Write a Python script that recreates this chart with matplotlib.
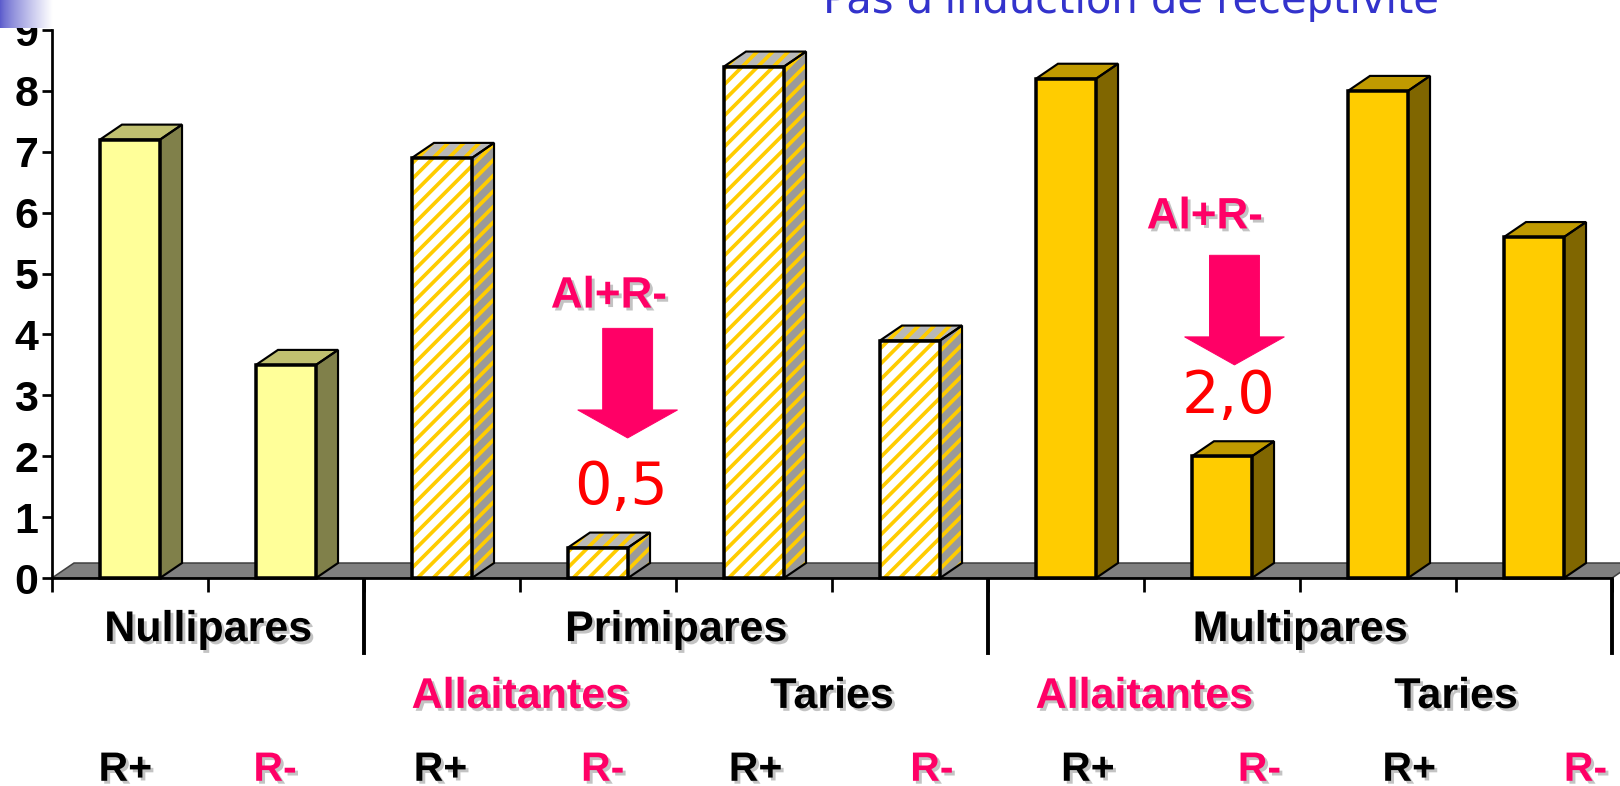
import numpy as np
import matplotlib
matplotlib.use("Agg")
import matplotlib.pyplot as plt
import matplotlib.patheffects as pe
from matplotlib.patches import Polygon, FancyArrow

plt.rcParams['font.family'] = ['Liberation Sans', 'DejaVu Sans']
plt.rcParams['hatch.linewidth'] = 1.9

DPI = 140
def pt(px):
    # taille en pixels -> points
    return px * 72 / DPI

# données
groupes = ['Nullipares', 'Primipares', 'Multipares']
groupes_x = [1, 4, 8]
sous_groupes = ['Allaitantes', 'Taries', 'Allaitantes', 'Taries']
sous_groupes_x = [3, 5, 7, 9]
recepteurs = ['R+', 'R-', 'R+', 'R-', 'R+', 'R-', 'R+', 'R-', 'R+', 'R-']
valeurs = [7.2, 3.5, 6.9, 0.5, 8.4, 3.9, 8.2, 2.0, 8.0, 5.6]
types = ['nulli', 'nulli', 'primi', 'primi', 'primi', 'primi',
         'multi', 'multi', 'multi', 'multi']

ROSE = '#FF0066'
couleurs = {
    'nulli': dict(front='#FFFF99', side='#80804A', top='#C0C070', hatch=None),
    'primi': dict(front='white', side='#9A9A9A', top='#B8B8B8', hatch='///'),
    'multi': dict(front='#FFCC00', side='#806600', top='#C09A00', hatch=None),
}

W = 0.385      # largeur de la face avant
DX, DY = 0.141, 0.246   # profondeur 3D

fig = plt.figure(figsize=(1620 / DPI, 786 / DPI), dpi=DPI)
ax = fig.add_axes([52 / 1620, 208 / 786, 1560 / 1620, 548 / 786])
ax.set_xlim(0, 10)
ax.set_ylim(0, 9)

# sol gris
ax.add_patch(Polygon([(0, 0), (10, 0), (10 + DX, DY), (DX, DY)],
                     fc='#808080', ec='#404040', lw=0.8, clip_on=False, zorder=1))

def barre(x, h, c):
    x0, x1 = x - W / 2, x + W / 2
    faces = [
        ([(x1, 0), (x1 + DX, DY), (x1 + DX, h + DY), (x1, h)], c['side'], 1.1),
        ([(x0, h), (x1, h), (x1 + DX, h + DY), (x0 + DX, h + DY)], c['top'], 1.1),
        ([(x0, 0), (x1, 0), (x1, h), (x0, h)], c['front'], 1.8),
    ]
    for pts, fc, lw in faces:
        if c['hatch']:
            ax.add_patch(Polygon(pts, fc=fc, ec='#FFCC00', lw=0, hatch=c['hatch'],
                                 clip_on=False, zorder=2))
        else:
            ax.add_patch(Polygon(pts, fc=fc, lw=0, clip_on=False, zorder=2))
        ax.add_patch(Polygon(pts, fill=False, ec='black', lw=lw,
                             joinstyle='miter', clip_on=False, zorder=3))

xs = np.arange(len(valeurs)) + 0.5
for x, v, t in zip(xs, valeurs, types):
    barre(x, v, couleurs[t])

# axes
for s in ['top', 'right']:
    ax.spines[s].set_visible(False)
ax.spines['left'].set_linewidth(1.4)
ax.spines['bottom'].set_linewidth(1.4)
ax.set_yticks(range(10))
ax.set_yticklabels([str(i) for i in range(10)], fontsize=pt(43), fontweight='bold')
ax.tick_params(axis='y', length=5, width=1.4, pad=2)
ax.set_xticks(range(11))
ax.set_xticklabels([])
ax.tick_params(axis='x', length=7, width=1.4)

tr = ax.get_xaxis_transform()
for xs_sep in [2, 6, 10]:
    ax.plot([xs_sep, xs_sep], [-0.005, -0.137], color='black', lw=2.0,
            transform=tr, clip_on=False)

ombre = [pe.withSimplePatchShadow(offset=(1.5, -1.5), shadow_rgbFace='#888888', alpha=0.5)]

for g, gx in zip(groupes, groupes_x):
    ax.text(gx, -0.095, g, transform=tr, ha='center', va='center',
            fontsize=pt(43), fontweight='bold', path_effects=ombre)

for s, sx in zip(sous_groupes, sous_groupes_x):
    ax.text(sx, -0.217, s, transform=tr, ha='center', va='center',
            fontsize=pt(43), fontweight='bold', path_effects=ombre,
            color=ROSE if s == 'Allaitantes' else 'black')

r_x = [0.47, 1.43, 2.49, 3.53, 4.51, 5.64, 6.64, 7.74, 8.70, 9.83]
for r, rx in zip(recepteurs, r_x):
    ax.text(rx, -0.350, r, transform=tr, ha='center', va='center',
            fontsize=pt(41), fontweight='bold', path_effects=ombre,
            color=ROSE if r == 'R-' else 'black')

# flèches Al+R-
for i, dx_fl, haut in [(3, 0.19, 1.8), (7, 0.08, 1.5)]:
    v = valeurs[i]
    xc = xs[i] + dx_fl
    base = v + haut
    ax.add_patch(FancyArrow(xc, base + 1.8, 0, -1.8, width=0.32, head_width=0.64,
                            head_length=0.46, length_includes_head=True,
                            fc=ROSE, ec=ROSE, lw=0.5, zorder=4))
    ax.text(xc - 0.04, v + 0.98, f'{v:.1f}'.replace('.', ','), ha='center', va='center',
            color='#FF0000', fontsize=pt(59), family='DejaVu Sans', zorder=4)
    ax.text(xc - 0.12 if i == 3 else xc - 0.19, base + 2.33 if i == 3 else base + 2.43,
            'Al+R-', ha='center', va='center', color=ROSE,
            fontsize=pt(44), fontweight='bold', path_effects=ombre, zorder=4)

# titre coupé en haut
fig.text(1131 / 1620, 1 - 13 / 786, "Pas d'induction de réceptivité", ha='center',
         va='baseline', color='#3333CC', fontsize=pt(41.7), family='DejaVu Sans')

# coin bleu dégradé
coin = fig.add_axes([0, 1 - 28 / 786, 52 / 1620, 28 / 786])
t = np.linspace(0, 1, 60) ** 0.8
grad = np.zeros((1, 60, 3))
bleu = np.array([0.36, 0.36, 0.80])
for k in range(3):
    grad[0, :, k] = bleu[k] + (1 - bleu[k]) * t
coin.imshow(grad, aspect='auto')
coin.axis('off')

fig.savefig('out.png', dpi=DPI)
